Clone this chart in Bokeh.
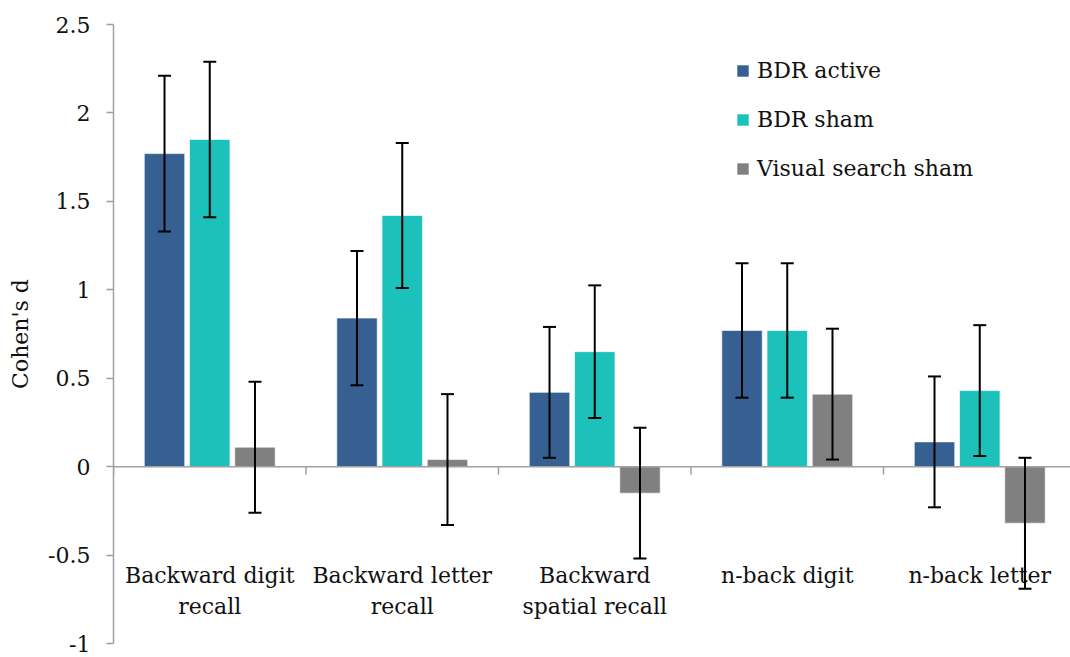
from bokeh.plotting import figure
from bokeh.models import (ColumnDataSource, Whisker, TeeHead, Span, FixedTicker,
                          Legend, LegendItem, Range1d)
from bokeh.core.properties import value
from bokeh.embed import file_html
from bokeh.resources import INLINE

# Effect sizes (Cohen's d) with error half-widths per task and condition
tasks = ["Backward digit recall", "Backward letter recall", "Backward spatial recall",
         "n-back digit", "n-back letter"]
label_line1 = ["Backward digit", "Backward letter", "Backward", "n-back digit", "n-back letter"]
label_line2 = ["recall", "recall", "spatial recall", "", ""]

series_names = ["BDR active", "BDR sham", "Visual search sham"]
bdr_active = [1.77, 0.84, 0.42, 0.77, 0.14]
bdr_active_err = [0.44, 0.38, 0.37, 0.38, 0.37]
bdr_sham = [1.85, 1.42, 0.65, 0.77, 0.43]
bdr_sham_err = [0.44, 0.41, 0.375, 0.38, 0.37]
visual_sham = [0.11, 0.04, -0.15, 0.41, -0.32]
visual_sham_err = [0.37, 0.37, 0.37, 0.37, 0.37]

y_ticks = [-1, -0.5, 0, 0.5, 1, 1.5, 2, 2.5]

colors = ["#376092", "#1CC1BC", "#808080"]
FONT = "DejaVu Serif"

W, H = 1070, 657
LEFT, TOP, BOTTOM = 113, 24, 14
Y0, Y1 = -1, 2.5
group_px = 192.5
x_end = (W - LEFT) / group_px
px_per_unit = (H - TOP - BOTTOM) / (Y1 - Y0)

p = figure(width=W, height=H, output_backend="svg", toolbar_location=None,
           x_range=Range1d(0, x_end), y_range=Range1d(Y0, Y1),
           min_border_left=LEFT, min_border_right=0, min_border_top=TOP,
           min_border_bottom=BOTTOM, outline_line_color=None)
p.grid.visible = False
p.xaxis.visible = False

yax = p.yaxis[0]
yax.ticker = FixedTicker(ticks=y_ticks)
yax.major_label_overrides = {t: ("%g" % t) for t in y_ticks}
yax.axis_line_color = "#A0A0A0"
yax.axis_line_width = 1.5
yax.major_tick_line_color = "#A0A0A0"
yax.major_tick_line_width = 1.5
yax.major_tick_out = 7
yax.major_tick_in = 0
yax.minor_tick_line_color = None
yax.major_label_text_font = FONT
yax.major_label_text_font_size = "22px"
yax.major_label_text_color = "#111111"
yax.major_label_standoff = 16
yax.axis_label = "Cohen's d"
yax.axis_label_text_font = FONT
yax.axis_label_text_font_style = "normal"
yax.axis_label_text_font_size = "22px"
yax.axis_label_text_color = "#111111"
yax.axis_label_standoff = 12

centers = [i + 0.5 for i in range(len(tasks))]
offsets = [-0.235, 0.0, 0.235]
bar_w = 0.21

renderers = []
for vals, col, off in zip([bdr_active, bdr_sham, visual_sham], colors, offsets):
    src = ColumnDataSource(dict(x=[c + off for c in centers], top=vals))
    r = p.vbar(x="x", top="top", bottom=0, width=bar_w, source=src,
               fill_color=col, line_color="white", line_alpha=0.6, line_width=1)
    renderers.append(r)

# horizontal axis through zero with group separator ticks below it
p.add_layout(Span(location=0, dimension="width", line_color="#A0A0A0", line_width=1.5))
bounds = list(range(len(tasks) + 1))
tick_len = 8 / px_per_unit
p.segment(x0=bounds, x1=bounds, y0=[0] * len(bounds), y1=[-tick_len] * len(bounds),
          line_color="#A0A0A0", line_width=1.5)

# error bars drawn over the bars
for vals, errs, off in zip([bdr_active, bdr_sham, visual_sham],
                           [bdr_active_err, bdr_sham_err, visual_sham_err], offsets):
    esrc = ColumnDataSource(dict(x=[c + off for c in centers],
                                 upper=[v + e for v, e in zip(vals, errs)],
                                 lower=[v - e for v, e in zip(vals, errs)]))
    p.add_layout(Whisker(source=esrc, base="x", upper="upper", lower="lower",
                         level="overlay", line_color="black", line_width=2,
                         upper_head=TeeHead(size=13, line_color="black", line_width=2),
                         lower_head=TeeHead(size=13, line_color="black", line_width=2)))

# task names under the zero line
p.text(x=centers, y=[0] * len(tasks), text=label_line1, text_font=value(FONT),
       text_font_size="22px", text_align="center", text_baseline="alphabetic",
       text_color="#111111", y_offset=109)
p.text(x=centers, y=[0] * len(tasks), text=label_line2, text_font=value(FONT),
       text_font_size="22px", text_align="center", text_baseline="alphabetic",
       text_color="#111111", y_offset=140)

legend = Legend(items=[LegendItem(label=n, renderers=[r]) for n, r in zip(series_names, renderers)],
                location=(622, 462), orientation="vertical",
                glyph_width=15, glyph_height=15, label_height=24, spacing=24,
                label_standoff=7, padding=0, margin=0,
                label_text_font=FONT, label_text_font_size="22px",
                label_text_color="#111111",
                border_line_color=None, background_fill_alpha=0)
p.add_layout(legend)

open("out.html", "w").write(file_html(p, INLINE))
